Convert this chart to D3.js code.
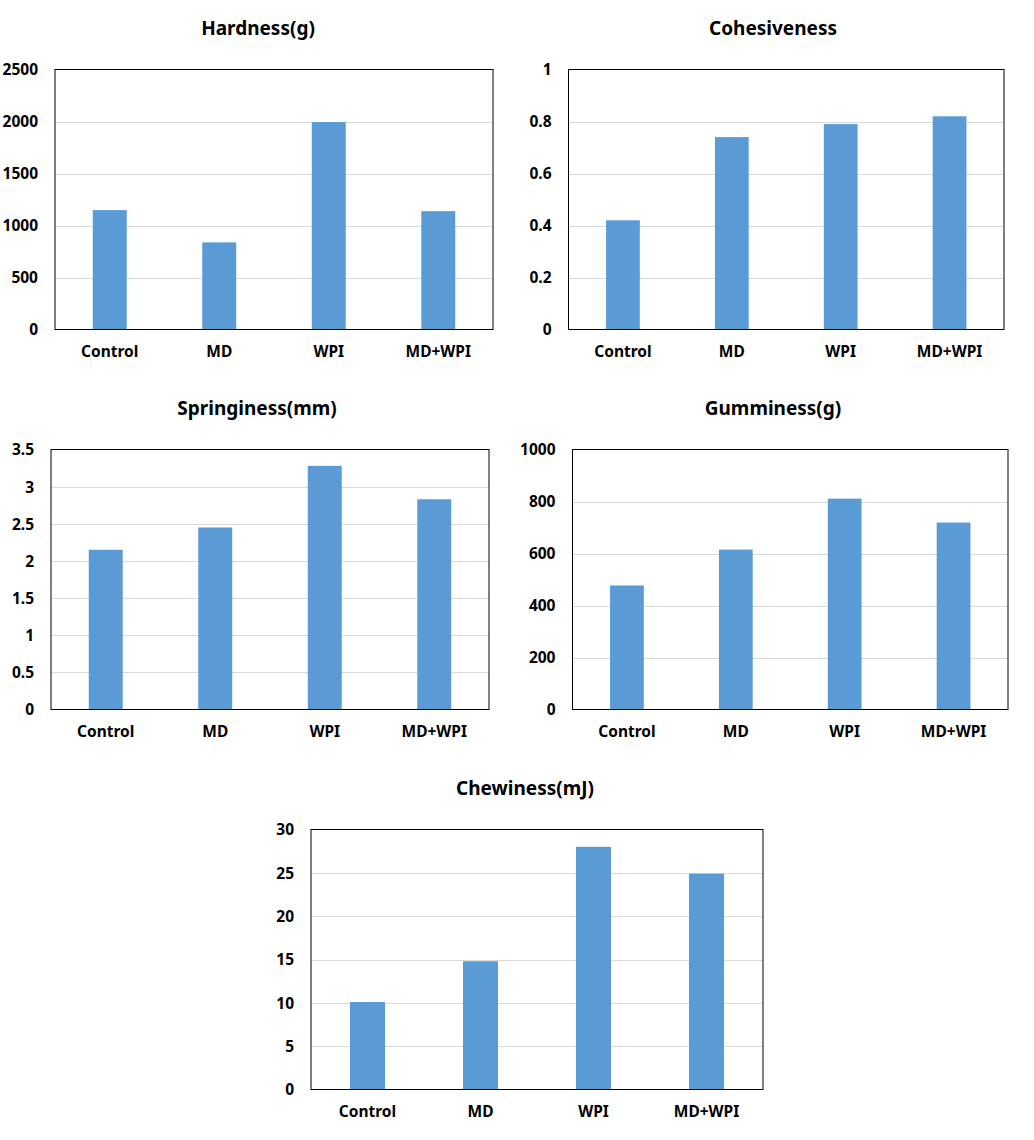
<!DOCTYPE html>
<html>
<head>
<meta charset="utf-8">
<script src="https://cdn.jsdelivr.net/npm/d3@7"></script>
<style>
  html, body { margin: 0; padding: 0; background: #fff; }
  svg { display: block; }
  text { font-family: "Noto Sans", "Open Sans", sans-serif; font-weight: bold; fill: #000; }
</style>
</head>
<body>
<div id="chart"></div>
<script>
const categories = ["Control", "MD", "WPI", "MD+WPI"];

const hardnessValues = [1148, 838, 1995, 1138];
const cohesivenessValues = [0.42, 0.74, 0.79, 0.82];
const springinessValues = [2.15, 2.45, 3.28, 2.83];
const gumminessValues = [477, 615, 811, 719];
const chewinessValues = [10.1, 14.8, 28.0, 24.9];

const hardnessTicks = [0, 500, 1000, 1500, 2000, 2500];
const cohesivenessTicks = [0, 0.2, 0.4, 0.6, 0.8, 1];
const springinessTicks = [0, 0.5, 1, 1.5, 2, 2.5, 3, 3.5];
const gumminessTicks = [0, 200, 400, 600, 800, 1000];
const chewinessTicks = [0, 5, 10, 15, 20, 25, 30];

const titles = ["Hardness(g)", "Cohesiveness", "Springiness(mm)", "Gumminess(g)", "Chewiness(mJ)"];

const panels = [
  { title: titles[0], values: hardnessValues, ticks: hardnessTicks, box: [55, 69.5, 493, 329.5], tx: 258, ty: 35 },
  { title: titles[1], values: cohesivenessValues, ticks: cohesivenessTicks, box: [568.5, 69.5, 1004, 329.5], tx: 773, ty: 35 },
  { title: titles[2], values: springinessValues, ticks: springinessTicks, box: [51, 449.5, 489, 709.5], tx: 257, ty: 415 },
  { title: titles[3], values: gumminessValues, ticks: gumminessTicks, box: [572.5, 449.5, 1008, 709.5], tx: 773, ty: 415 },
  { title: titles[4], values: chewinessValues, ticks: chewinessTicks, box: [311, 829.5, 763, 1089.5], tx: 525, ty: 795 }
];

const svg = d3.select("#chart").append("svg").attr("width", 1034).attr("height", 1140);

panels.forEach(p => {
  const [x0, y0, x1, y1] = p.box;
  const g = svg.append("g");
  const x = d3.scaleBand().domain(categories).range([x0, x1]).paddingInner(0.69).paddingOuter(0.345);
  const y = d3.scaleLinear().domain([0, p.ticks[p.ticks.length - 1]]).range([y1, y0]);

  // gridlines
  g.append("g").selectAll("line").data(p.ticks.slice(1, -1)).join("line")
    .attr("x1", x0).attr("x2", x1)
    .attr("y1", d => Math.round(y(d)) + 0.5).attr("y2", d => Math.round(y(d)) + 0.5)
    .attr("stroke", "#d9d9d9").attr("stroke-width", 1);

  // bars
  g.append("g").selectAll("rect").data(p.values).join("rect")
    .attr("x", (d, i) => x(categories[i]))
    .attr("width", x.bandwidth())
    .attr("y", d => y(d))
    .attr("height", d => y(0) - y(d))
    .attr("fill", "#5b9bd5");

  // y axis labels
  const yAxis = d3.axisLeft(y).tickValues(p.ticks).tickSize(0).tickPadding(17).tickFormat(d3.format("~g"));
  const ya = g.append("g").attr("transform", `translate(${x0},0)`).call(yAxis);
  ya.select(".domain").remove();
  ya.selectAll("text").attr("font-size", 15.5).attr("font-family", null).attr("dy", "0.35em");

  // x axis labels
  const xAxis = d3.axisBottom(x).tickSize(0).tickPadding(16);
  const xa = g.append("g").attr("transform", `translate(0,${y1})`).call(xAxis);
  xa.select(".domain").remove();
  xa.selectAll("text").attr("font-size", 15.5).attr("font-family", null);

  // plot border
  g.append("rect").attr("x", x0).attr("y", y0).attr("width", x1 - x0).attr("height", y1 - y0)
    .attr("fill", "none").attr("stroke", "#000").attr("stroke-width", 1);

  // title
  g.append("text").attr("x", p.tx).attr("y", p.ty).attr("text-anchor", "middle")
    .attr("font-size", 19).text(p.title);
});
</script>
</body>
</html>
